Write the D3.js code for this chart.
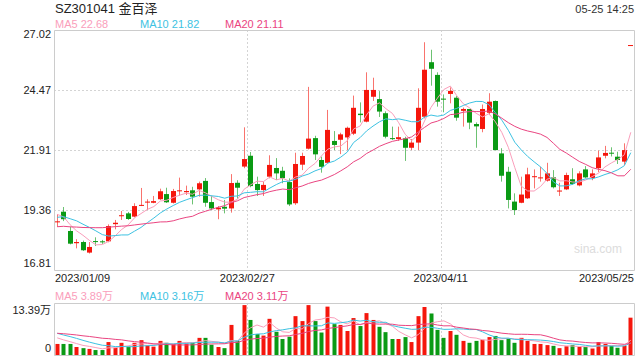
<!DOCTYPE html>
<html>
<head>
<meta charset="utf-8">
<script src="https://cdn.jsdelivr.net/npm/d3@7"></script>
<style>
  body { margin: 0; background: #fff; }
  svg { display: block; font-family: "Liberation Sans", Arial, "Noto Sans CJK SC", sans-serif; }
</style>
</head>
<body>
<svg id="chart" width="640" height="360"></svg>
<script>
// trading days shown
const dates = [
  '2023/01/09','2023/01/10','2023/01/11','2023/01/12','2023/01/13','2023/01/16','2023/01/17','2023/01/18','2023/01/19','2023/01/20',
  '2023/01/30','2023/01/31','2023/02/01','2023/02/02','2023/02/03','2023/02/06','2023/02/07','2023/02/08','2023/02/09','2023/02/10',
  '2023/02/13','2023/02/14','2023/02/15','2023/02/16','2023/02/17','2023/02/20','2023/02/21','2023/02/22','2023/02/23','2023/02/24',
  '2023/02/27','2023/02/28','2023/03/01','2023/03/02','2023/03/03','2023/03/06','2023/03/07','2023/03/08','2023/03/09','2023/03/10',
  '2023/03/13','2023/03/14','2023/03/15','2023/03/16','2023/03/17','2023/03/20','2023/03/21','2023/03/22','2023/03/23','2023/03/24',
  '2023/03/27','2023/03/28','2023/03/29','2023/03/30','2023/03/31','2023/04/03','2023/04/04','2023/04/06','2023/04/07','2023/04/10',
  '2023/04/11','2023/04/12','2023/04/13','2023/04/14','2023/04/17','2023/04/18','2023/04/19','2023/04/20','2023/04/21','2023/04/24',
  '2023/04/25','2023/04/26','2023/04/27','2023/04/28','2023/05/04','2023/05/05','2023/05/08','2023/05/09','2023/05/10','2023/05/11',
  '2023/05/12','2023/05/15','2023/05/16','2023/05/17','2023/05/18','2023/05/19','2023/05/22','2023/05/23','2023/05/24','2023/05/25'
];

const open = [
  18.84,19.29,18.47,17.95,18.00,17.55,18.04,18.03,18.03,18.76, 19.10,19.22,19.08,19.55,19.68,19.67,19.82,20.04,19.67,20.17,
  20.12,20.20,20.24,20.60,19.70,19.39,19.50,19.43,20.52,21.21, 21.67,20.47,20.21,20.78,21.15,21.03,20.55,19.65,21.29,21.97,
  22.42,21.49,21.37,22.30,22.35,22.45,22.61,23.46,23.12,24.18, 24.08,23.48,22.42,22.38,22.41,22.01,22.23,23.33,25.65,25.11,
  24.10,24.30,24.14,23.58,23.66,23.02,22.81,23.50,24.00,21.77, 20.99,19.72,19.67,19.86,20.76,20.71,20.61,20.75,20.15,20.24,
  20.67,20.41,21.09,20.72,21.14,21.67,21.80,21.63,21.42,26.38
];
const high = [
  19.19,19.49,18.65,18.12,18.06,18.00,18.20,18.09,18.75,18.94, 19.32,19.28,19.65,20.30,19.82,19.96,20.27,20.31,20.26,20.74,
  20.40,20.35,20.57,20.72,19.97,19.53,19.79,20.89,20.63,22.88, 21.83,20.78,20.57,21.69,21.57,21.20,20.71,21.80,21.80,24.60,
  22.52,21.63,23.62,22.72,22.65,22.91,24.23,23.94,25.22,24.99, 24.42,23.56,22.91,22.91,22.48,22.38,24.54,26.50,26.18,25.22,
  24.28,24.58,24.21,23.72,23.66,23.09,23.85,24.33,24.02,21.99, 21.20,20.07,20.78,21.16,21.09,21.20,21.37,21.06,20.52,20.95,
  21.14,21.01,21.23,21.09,21.89,22.09,22.03,21.84,22.20,26.38
];
const low = [
  18.64,18.89,17.90,17.73,17.62,17.51,17.83,17.92,17.99,18.54, 18.94,18.94,19.05,19.53,19.36,19.65,19.79,19.66,19.64,19.97,
  20.00,19.60,19.93,19.50,19.36,18.97,19.22,19.25,19.84,21.14, 20.33,19.96,19.96,20.71,20.64,20.50,19.53,19.58,21.06,21.94,
  21.49,20.95,21.35,21.91,21.74,21.91,22.55,23.09,23.09,24.00, 23.32,22.41,22.34,22.30,21.45,21.91,21.91,23.26,24.65,23.76,
  23.52,23.90,23.16,22.91,22.80,22.01,22.67,23.40,21.91,20.57, 19.43,19.15,19.65,19.83,20.28,20.57,20.57,20.28,19.96,20.21,
  20.43,20.37,20.71,20.63,20.97,21.56,21.64,21.32,21.28,26.38
];
const close = [
  18.88,18.97,17.93,18.00,17.65,17.79,18.02,18.01,18.68,18.82, 19.14,18.98,19.53,19.58,19.72,19.74,20.16,19.69,20.17,20.20,
  20.17,19.93,20.50,19.67,19.43,19.46,19.42,20.51,20.31,21.53, 20.38,20.21,20.43,21.28,20.92,20.72,19.60,21.32,21.66,22.40,
  21.73,21.20,22.77,22.13,22.58,22.86,23.71,23.40,24.47,24.47, 23.55,22.48,22.40,22.46,22.01,22.23,23.71,25.33,25.37,23.97,
  24.07,24.43,23.29,23.66,23.08,22.92,23.66,23.97,21.91,20.82, 19.79,19.36,20.02,20.88,20.80,20.75,20.92,20.33,20.19,20.85,
  20.47,20.92,20.75,20.92,21.60,21.79,21.77,21.49,21.91,26.38
];
// volume, 万 shares
const volume = [
  2.9,2.9,2.9,2.1,1.8,1.6,1.3,1.3,3.4,1.9, 3.2,2.2,3.2,3.9,2.5,2.2,3.7,3.2,2.9,3.7,
  3.0,3.2,4.5,4.5,2.7,2.1,1.8,7.9,3.7,13.1, 9.2,5.5,5.1,9.5,6.1,4.2,4.8,10.2,8.9,13.1,
  8.9,5.9,12.7,8.1,7.9,6.3,9.7,7.6,11.0,9.2, 7.4,6.0,4.2,4.2,4.7,3.4,10.2,12.6,10.9,6.6,
  4.5,6.3,5.3,3.7,3.2,3.7,4.0,4.7,5.0,3.9, 4.3,3.2,4.5,3.7,2.9,2.9,2.6,2.4,1.8,2.3,
  2.6,2.1,2.1,1.7,3.4,2.9,2.4,1.9,2.4,9.8
];
// sessions before 2023/01/09 (feed the moving averages only)
const prevClose = [18.6,18.4,18.2,18.0,17.9,18.1,18.0,18.2,18.4,18.7, 18.7,18.8,18.9,19.1,19.14,19.5,19.6,19.3,18.6];
const prevVolume = [5.2,6.0,5.5,6.3,5.0,5.8,6.1,5.4,5.9,5.8, 7.5,7.0,6.8,6.9,6.3,5.6,5.2,4.6,4.2];

const priceTicks = [16.81, 19.36, 21.91, 24.47, 27.02];
const dateTicks = ['2023/01/09', '2023/02/27', '2023/04/11', '2023/05/25'];
const priceLegend = ['MA5 22.68', 'MA10 21.82', 'MA20 21.11'];
const volLegend = ['MA5 3.89万', 'MA10 3.16万', 'MA20 3.11万'];
const volMax = 13.39;

const RED = '#f5160c', GREEN = '#0a9a14';
const MA_COLORS = ['#fa9ebb', '#3dc2e2', '#ea4581'];

function movingAvg(prev, vals, n) {
  const all = prev.concat(vals);
  return vals.map((_, i) => d3.mean(all.slice(prev.length + i - n + 1, prev.length + i + 1)));
}

const svg = d3.select('#chart');
const left = 54, right = 634;
const pTop = 30, pBottom = 270, vTop = 304, vBottom = 355;

const x = d3.scaleBand().domain(dates).range([left, right]);
const y = d3.scaleLinear().domain([16.81, 27.02]).range([pBottom, pTop]);
const yv = d3.scaleLinear().domain([0, volMax]).range([vBottom, vTop]);
const cx = d => x(d) + x.bandwidth() / 2;

// header
svg.append('text').attr('x', 55).attr('y', 12.5).attr('font-size', 13).attr('fill', '#222')
  .text('SZ301041 金百泽');
svg.append('text').attr('x', 634).attr('y', 12.5).attr('font-size', 11).attr('fill', '#333')
  .attr('text-anchor', 'end').text('05-25 14:25');

priceLegend.forEach((t, k) => {
  svg.append('text').attr('x', 55 + k * 85).attr('y', 27.5).attr('font-size', 11)
    .attr('fill', MA_COLORS[k]).text(t);
});
volLegend.forEach((t, k) => {
  svg.append('text').attr('x', 55 + k * 85).attr('y', 299.5).attr('font-size', 11)
    .attr('fill', MA_COLORS[k]).text(t);
});

// grid
const grid = svg.append('g').attr('stroke', '#d4d4d4').attr('stroke-dasharray', '2,2');
grid.selectAll('line.h').data(priceTicks.slice(1, -1)).enter().append('line')
  .attr('x1', left).attr('x2', right)
  .attr('y1', d => Math.round(y(d)) + 0.5).attr('y2', d => Math.round(y(d)) + 0.5);
dateTicks.slice(1, -1).forEach(d => {
  const gx = Math.round(x(d)) + 0.5;
  grid.append('line').attr('x1', gx).attr('x2', gx).attr('y1', pTop).attr('y2', pBottom);
  grid.append('line').attr('x1', gx).attr('x2', gx).attr('y1', vTop - 1).attr('y2', vBottom);
});

// frames
svg.append('path').attr('fill', 'none').attr('stroke', '#ccc')
  .attr('d', `M${left + 0.5},${pTop + 0.5}H${right + 0.5}V${pBottom + 0.5}H${left + 0.5}Z`);
svg.append('path').attr('fill', 'none').attr('stroke', '#ccc')
  .attr('d', `M${left + 0.5},${vTop - 0.5}H${right + 0.5}V${vBottom + 0.5}H${left + 0.5}Z`);

// axis labels
svg.selectAll('text.py').data(priceTicks).enter().append('text')
  .attr('x', 51).attr('y', d => Math.min(Math.max(y(d) + 3.8, 38), 267))
  .attr('text-anchor', 'end').attr('font-size', 11).attr('fill', '#222')
  .text(d => d.toFixed(2));
svg.append('text').attr('x', 51).attr('y', 314).attr('text-anchor', 'end')
  .attr('font-size', 11).attr('fill', '#222').text(volMax.toFixed(2) + '万');
svg.append('text').attr('x', 51).attr('y', 352).attr('text-anchor', 'end')
  .attr('font-size', 11).attr('fill', '#222').text('0');

dateTicks.forEach((d, k) => {
  const anchor = k === 0 ? 'start' : (k === dateTicks.length - 1 ? 'end' : 'middle');
  const tx = k === 0 ? left + 1 : (k === dateTicks.length - 1 ? right : x(d));
  svg.append('text').attr('x', tx).attr('y', 282).attr('text-anchor', anchor)
    .attr('font-size', 11).attr('fill', '#222').text(d);
});

// watermark
svg.append('text').attr('x', 622).attr('y', 252.5).attr('text-anchor', 'end')
  .attr('font-size', 12).attr('fill', '#dcdcdc').text('sina.com');

// candles
const idx = d3.range(dates.length);
const colorOf = i => close[i] >= open[i] ? RED : GREEN;
const candles = svg.append('g');
candles.selectAll('line').data(idx).enter().append('line')
  .attr('x1', i => Math.floor(cx(dates[i])) + 0.5).attr('x2', i => Math.floor(cx(dates[i])) + 0.5)
  .attr('y1', i => y(high[i])).attr('y2', i => y(low[i]))
  .attr('stroke', colorOf).attr('stroke-opacity', 0.6);
candles.selectAll('rect').data(idx).enter().append('rect')
  .attr('x', i => Math.floor(cx(dates[i])) - 2)
  .attr('width', 5)
  .attr('y', i => y(Math.max(open[i], close[i])))
  .attr('height', i => Math.max(1, Math.abs(y(open[i]) - y(close[i]))))
  .attr('fill', colorOf);

// volume bars
svg.append('g').selectAll('rect').data(idx).enter().append('rect')
  .attr('x', i => Math.floor(cx(dates[i])) - 1.5)
  .attr('width', 4)
  .attr('y', i => yv(volume[i]))
  .attr('height', i => vBottom - yv(volume[i]))
  .attr('fill', colorOf);

// moving averages
[5, 10, 20].forEach((n, k) => {
  const ma = movingAvg(prevClose, close, n);
  svg.append('path').attr('fill', 'none').attr('stroke', MA_COLORS[k]).attr('stroke-width', 1)
    .attr('d', d3.line().x((_, i) => cx(dates[i])).y(v => y(v))(ma));
  const mv = movingAvg(prevVolume, volume, n);
  svg.append('path').attr('fill', 'none').attr('stroke', MA_COLORS[k]).attr('stroke-width', 1)
    .attr('d', d3.line().x((_, i) => cx(dates[i])).y(v => yv(v))(mv));
});
</script>
</body>
</html>
